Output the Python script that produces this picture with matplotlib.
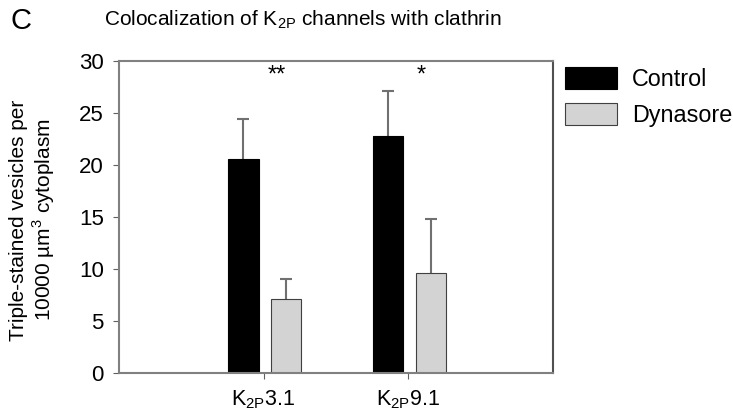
import numpy as np
import matplotlib.pyplot as plt

# Data
channels = ['K$_{\\mathregular{2P}}$3.1', 'K$_{\\mathregular{2P}}$9.1']
control = np.array([20.6, 22.8])
control_err = np.array([3.8, 4.3])
dynasore = np.array([7.1, 9.6])
dynasore_err = np.array([1.9, 5.2])
stars = ['**', '*']

plt.rcParams['font.family'] = ['Liberation Sans', 'DejaVu Sans']
plt.rcParams['mathtext.fontset'] = 'custom'
plt.rcParams['mathtext.rm'] = 'Liberation Sans'

fig = plt.figure(figsize=(7.33, 4.16), dpi=100)
ax = fig.add_axes([119 / 733, 1 - 373 / 416, 434 / 733, 312 / 416])

x = np.arange(1, len(channels) + 1)
w = 0.21
xc = x - 0.14
xd = x + 0.155
ax.bar(xc, control, w, color='black', edgecolor='black', linewidth=0.8, label='Control', zorder=2)
ax.bar(xd, dynasore, w, color='#d3d3d3', edgecolor='#404040', linewidth=0.8, label='Dynasore', zorder=2)

# upper-only error bars with a cap at the top
for xs, vals, errs in [(xc, control, control_err), (xd, dynasore, dynasore_err)]:
    ax.errorbar(xs, vals, yerr=[np.zeros(len(vals)), errs], fmt='none',
                ecolor='#707070', elinewidth=1.5, capsize=0, zorder=1)
    ax.plot(xs, vals + errs, ls='none', marker='_', markersize=9, mew=1.5, color='#707070', zorder=1)

for xi, s in zip(x, stars):
    ax.text(xi + 0.09, 29.7, s, ha='center', va='top', fontsize=17)

ax.set_xlim(0, 3)
ax.set_ylim(0, 30)
ax.set_yticks(range(0, 31, 5))
ax.set_xticks(x)
ax.set_xticklabels(channels, fontsize=15.5)
ax.tick_params(axis='y', labelsize=16, length=4, color='#606060', pad=7)
ax.tick_params(axis='x', length=4, color='#606060', pad=7)
for sp in ax.spines.values():
    sp.set_color('#808080')
    sp.set_linewidth(1.5)
ax.spines['right'].set_color('#505050')

fig.text(33 / 733, 1 - 220 / 416, 'Triple-stained vesicles per\n10000 µm$^{3}$ cytoplasm',
         fontsize=15, rotation=90, ha='center', va='center', linespacing=1.15)

fig.text(10 / 733, 1 - 21 / 416, 'C', fontsize=21, va='center', ha='left')
fig.text(104 / 733, 1 - 20 / 416, 'Colocalization of K$_{\\mathregular{2P}}$ channels with clathrin',
         fontsize=15, va='center', ha='left')

ax.legend(loc='upper left', bbox_to_anchor=((565 - 119) / 434, 1 - 6 / 312), frameon=False,
          fontsize=16.8, handlelength=2.23, handleheight=1.1, handletextpad=0.64,
          labelspacing=0.5, borderpad=0, borderaxespad=0)

fig.savefig('out.png', dpi=100)
